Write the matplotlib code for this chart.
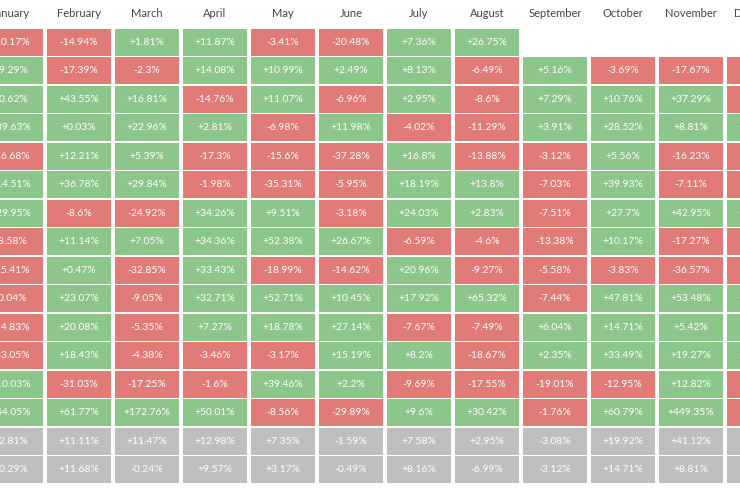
import matplotlib.pyplot as plt
from matplotlib.patches import Rectangle

months = ['January', 'February', 'March', 'April', 'May', 'June', 'July',
          'August', 'September', 'October', 'November', 'December']

# one list per month, rows top to bottom (last two rows: average, median)
jan = [-10.17, 9.29, 0.62, 39.63, -16.68, 14.51, 29.95, -8.58, -25.41, -0.04, -14.83, -33.05, 10.03, 44.05, 2.81, 0.29]
feb = [-14.94, -17.39, 43.55, 0.03, 12.21, 36.78, -8.6, 11.14, 0.47, 23.07, 20.08, 18.43, -31.03, 61.77, 11.11, 11.68]
mar = [1.81, -2.3, 16.81, 22.96, 5.39, 29.84, -24.92, 7.05, -32.85, -9.05, -5.35, -4.38, -17.25, 172.76, 11.47, -0.24]
apr = [11.87, 14.08, -14.76, 2.81, -17.3, -1.98, 34.26, 34.36, 33.43, 32.71, 7.27, -3.46, -1.6, 50.01, 12.98, 9.57]
may = [-3.41, 10.99, 11.07, -6.98, -15.6, -35.31, 9.51, 52.38, -18.99, 52.71, 18.78, -3.17, 39.46, -8.56, 7.35, 3.17]
jun = [-20.48, 2.49, -6.96, 11.98, -37.28, -5.95, -3.18, 26.67, -14.62, 10.45, 27.14, 15.19, 2.2, -29.89, -1.59, -0.49]
jul = [7.36, 8.13, 2.95, -4.02, 16.8, 18.19, 24.03, -6.59, 20.96, 17.92, -7.67, 8.2, -9.69, 9.6, 7.58, 8.16]
aug = [26.75, -6.49, -8.6, -11.29, -13.88, 13.8, 2.83, -4.6, -9.27, 65.32, -7.49, -18.67, -17.55, 30.42, 2.95, -6.99]
sep = [None, 5.16, 7.29, 3.91, -3.12, -7.03, -7.51, -13.38, -5.58, -7.44, 6.04, 2.35, -19.01, -1.76, -3.08, -3.12]
oct_ = [None, -3.69, 10.76, 28.52, 5.56, 39.93, 27.7, 10.17, -3.83, 47.81, 14.71, 33.49, -12.95, 60.79, 19.92, 14.71]
nov = [None, -17.67, 37.29, 8.81, -16.23, -7.11, 42.95, -17.27, -36.57, 53.48, 5.42, 19.27, 12.82, 449.35, 41.12, 8.81]
dec = [None, -3.2, -3.12, 12.18, -3.59, -18.9, 46.92, -5.15, -5.15, 38.89, 30.8, 13.83, -15.11, -34.81, 4.82, -3.12]

columns = [jan, feb, mar, apr, may, jun, jul, aug, sep, oct_, nov, dec]
n_rows = len(jan)
summary_rows = 2

red = '#e07b78'
green = '#8cc68a'
gray = '#bfbfbf'

plt.rcParams['font.family'] = ['Lato', 'DejaVu Sans']

fig = plt.figure(figsize=(7.4, 4.92), dpi=100)
ax = fig.add_axes([0, 0, 1, 1])

gx = 0.03
gy = 0.035
for c, col in enumerate(columns):
    ax.text(c + 0.5, -0.52, months[c], ha='center', va='center',
            fontsize=8, color='#444444')
    for r, v in enumerate(col):
        if v is None:
            continue
        if r >= n_rows - summary_rows:
            fc = gray
        elif v >= 0:
            fc = green
        else:
            fc = red
        ax.add_patch(Rectangle((c + gx, r + gy), 1 - 2 * gx, 1 - 2 * gy,
                               facecolor=fc, edgecolor='none'))
        label = ('+' if v >= 0 else '') + ('%g' % v) + '%'
        ax.text(c + 0.5, r + 0.5, label, ha='center', va='center',
                fontsize=7.5, color='white')

ax.set_xlim(23 / 68, 763 / 68)
ax.set_ylim(464 / 28.5, -28 / 28.5)
ax.axis('off')

fig.savefig('out.png', dpi=100)
